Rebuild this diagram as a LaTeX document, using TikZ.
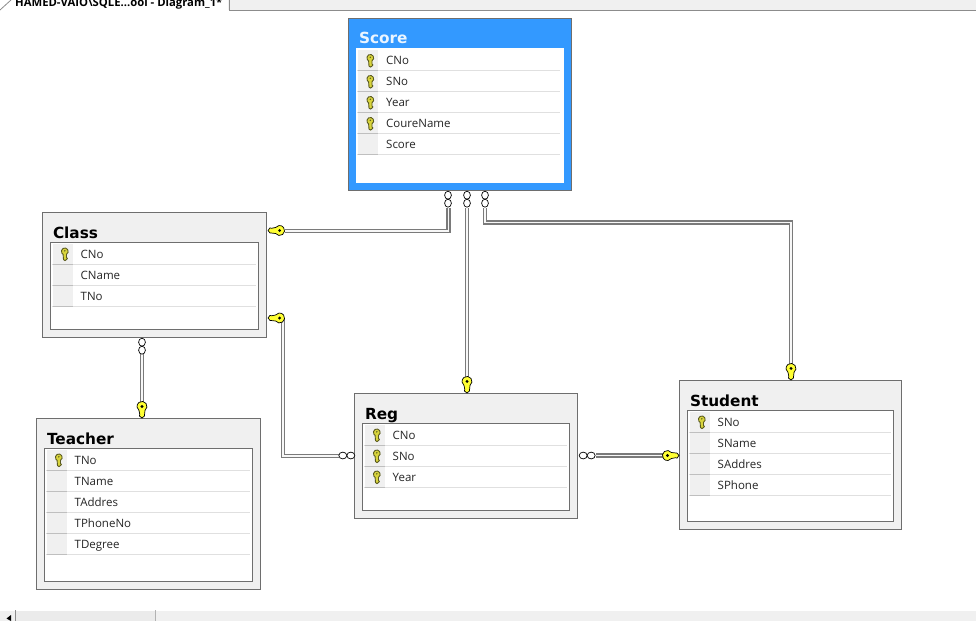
\documentclass[tikz,border=0pt]{standalone}
\usepackage{fontspec}
\setmainfont{Open Sans}
\newfontfamily\titlefont{DejaVu Sans}
\usetikzlibrary{calc}
\definecolor{selblue}{HTML}{3399FF}
\definecolor{panel}{HTML}{F0F0F0}
\definecolor{edge}{HTML}{6E6E6E}
\definecolor{keyfill}{HTML}{D8D43C}
\definecolor{keydark}{HTML}{5A5A20}
\definecolor{relfill}{HTML}{FFFF33}
\tikzset{
  tablebox/.style={rectangle,anchor=north west,draw=edge,line width=1pt,fill=panel,inner sep=0pt},
  selbox/.style={tablebox,fill=selblue,draw=edge},
  rowsbox/.style={rectangle,anchor=north west,draw=#1,line width=1pt,fill=white,inner sep=0pt},
  tabletitle/.style={anchor=base west,inner sep=0pt,font=\titlefont\bfseries\fontsize{15.3}{17}\selectfont,text=black},
  rowtext/.style={anchor=base west,inner sep=0pt,font=\fontsize{11.5}{13}\selectfont,text=black!85},
  rel/.style={draw=black!52,line width=1.4pt,double=black!3,double distance=1.5pt,line join=miter},
  relkey/.pic={
    \fill[relfill,draw=black,line width=.7pt] (0,0) -- (2pt,-2.4pt) -- (7.6pt,-3pt) arc[start angle=-143,end angle=143,radius=5pt] -- (3.5pt,2.2pt) -- (2pt,2.6pt) -- cycle;
    \fill[black] (11.6pt,0) circle[radius=1.6pt];
  },
  relinf/.pic={
    \draw[black,fill=white,line width=.7pt] (4.2pt,0) circle[x radius=4pt,y radius=3.4pt];
    \draw[black,fill=white,line width=.7pt] (12.2pt,0) circle[x radius=4pt,y radius=3.4pt];
  },
  rowkey/.pic={
    \fill[keyfill,draw=keydark,line width=.9pt] (1.5pt,-.3pt) arc[start angle=-60,end angle=240,radius=3.4pt] -- (-1.5pt,-5.6pt) -- (0,-6.6pt) -- (1.5pt,-5.6pt) -- (2.4pt,-4.4pt) -- (1.5pt,-3.4pt) -- cycle;
    \fill[keydark] (-.2pt,3.2pt) circle[radius=.8pt];
  }
}
% name, x, y, width, height, title, box style, title colour, inner border colour
\newcommand{\dbtable}[9]{
  \node[#7,minimum width=#4pt,minimum height=#5pt] (#1) at (#2,#3) {};
  \node[rowsbox=#9,minimum width=#4pt-16pt,minimum height=#5pt-38pt] (#1rows) at ($(#2,#3)+(8,30)$) {};
  \node[tabletitle,text=#8] (#1title) at ($(#2,#3)+(10.8,26)$) {#6};
}
\newcommand{\dbrows}[4]{% name, x, y, width; rows read from \rowlist
  \foreach \txt/\iskey [count=\i from 0] in \rowlist {
    \pgfmathsetmacro{\ry}{#3+31+21*\i}
    \fill[panel] (#2+10,\ry) rectangle (#2+30,\ry+20);
    \draw[black!12,line width=.8pt] (#2+9,\ry+20.5) -- (#2+#4-11,\ry+20.5);
    \draw[black!25,line width=.8pt] (#2+10,\ry+20.5) -- (#2+30,\ry+20.5);
    \node[rowtext] (#1row\i) at (#2+38,\ry+14.5) {\txt};
    \ifnum\iskey=1 \pic at (#2+22.5,\ry+10.5) {rowkey}; \fi
  }
}
\begin{document}
\begin{tikzpicture}[x=1pt,y=-1pt]
\useasboundingbox (0,0) rectangle (976,621);
\fill[white] (0,0) rectangle (976,621);

% top tab strip
\fill[panel] (228,0) rectangle (976,10);
\draw[black!45,line width=1pt] (229,0) -- (229,10) -- (976,10);
\draw[black!45,line width=.8pt] (0,10) -- (11,0);
\node[anchor=base west,inner sep=0pt,font=\bfseries\fontsize{11.3}{13}\selectfont,text=black] (tab) at (15,6.5) {HAMED-VAIO\textbackslash SQLE...ool - Diagram\_1*};

% bottom scrollbar
\fill[panel] (0,610) rectangle (976,621);
\fill[black!8] (16,610) rectangle (155,621);
\draw[white,line width=1pt] (0,610.5) -- (976,610.5);
\draw[black!45,line width=1pt] (15.5,610) -- (15.5,621);
\draw[black!30,line width=.6pt] (155,610) -- (155,621);
\fill[black] (11,615) -- (6.5,618.5) -- (11,621) -- cycle;

% tables
\dbtable{score}{348}{17.5}{223}{172.5}{Score}{selbox}{white!90!selblue}{white}
\def\rowlist{CNo/1,SNo/1,Year/1,CoureName/1,Score/0}
\dbrows{score}{348}{19}{223}
\dbtable{class}{42}{212}{224}{125}{Class}{tablebox}{black}{edge}
\def\rowlist{CNo/1,CName/0,TNo/0}
\dbrows{class}{42.5}{212.5}{224}
\dbtable{teacher}{36}{418}{224}{171}{Teacher}{tablebox}{black}{edge}
\def\rowlist{TNo/1,TName/0,TAddres/0,TPhoneNo/0,TDegree/0}
\dbrows{teacher}{36.5}{418.5}{224}
\dbtable{reg}{354}{393}{223}{125}{Reg}{tablebox}{black}{edge}
\def\rowlist{CNo/1,SNo/1,Year/1}
\dbrows{reg}{354.5}{393.5}{223}
\dbtable{student}{679}{380}{222}{149}{Student}{tablebox}{black}{edge}
\def\rowlist{SNo/1,SName/0,SAddres/0,SPhone/0}
\dbrows{student}{679.5}{380.5}{222}

% connector ends
\coordinate (a1) at (448.5,208);  \coordinate (a2) at (285,231);
\coordinate (b1) at (467,208);  \coordinate (b2) at (467,378);
\coordinate (c1) at (485,208);  \coordinate (c2) at (791,365);
\coordinate (d1) at (283,318);  \coordinate (d2) at (339,456);
\coordinate (e1) at (142,354);  \coordinate (e2) at (142,403);
\coordinate (f1) at (596,455.5);\coordinate (f2) at (664,455.5);

% connectors
\draw[rel] (a1) |- (a2);
\draw[rel] (b1) -- (b2);
\draw[rel] (c1) -- (485,222.5) -- (791,222.5) -- (c2);
\draw[rel] (d1) -- (283,456) -- (d2);
\draw[rel] (e1) -- (e2);
\draw[rel] (f1) -- (f2);

% connector end marks
\pic[rotate=-90] at (448,191) {relinf};
\pic[rotate=-90] at (467,191) {relinf};
\pic[rotate=-90] at (485,191) {relinf};
\pic[rotate=-90] at (142,338) {relinf};
\pic[rotate=180] at (355,455.5) {relinf};
\pic at (579,455.5) {relinf};
\pic at (268,230.5) {relkey};
\pic at (268,318) {relkey};
\pic[rotate=90] at (467,393) {relkey};
\pic[rotate=90] at (791,380) {relkey};
\pic[rotate=90] at (142,418) {relkey};
\pic[rotate=180] at (679,455.5) {relkey};
\end{tikzpicture}
\end{document}
